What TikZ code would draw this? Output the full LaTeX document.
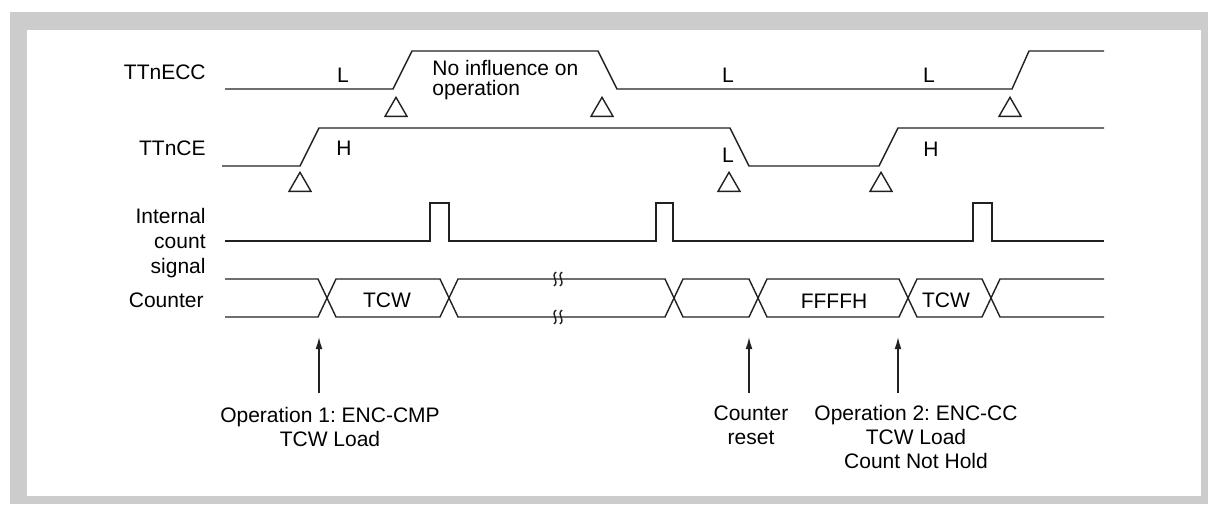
\documentclass[tikz,border=0pt]{standalone}
\usepackage{fontspec}
\setmainfont{Liberation Sans}
\frenchspacing
\usetikzlibrary{arrows.meta,positioning,shapes.geometric}

\begin{document}
\begin{tikzpicture}[x=0.5pt, y=-0.5pt,
  wave/.style={line width=0.7pt, draw=black!87},
  signame/.style={anchor=east, inner sep=0pt, align=right, font=\fontsize{10.5}{12.5}\selectfont},
  level/.style={inner sep=0pt, font=\fontsize{10.5}{12.5}\selectfont},
  note/.style={anchor=north, inner sep=0pt, align=center, font=\fontsize{10.5}{12}\selectfont},
  edgemark/.style={draw=black!87, line width=0.7pt, regular polygon, regular polygon sides=3,
    minimum size=12.7pt, inner sep=0pt},
  arrow/.style={-{Latex[length=6pt,width=3.4pt]}, line width=0.7pt, draw=black!87}
]
% frame
\fill[black!20] (10,12) rectangle (1208,504);
\fill[white] (27,30) rectangle (1201,496);
\useasboundingbox (0,0) rectangle (1208,504);

% signal names
\node[signame] (necc) at (206,72) {TTnECC};
\node[signame] (nce) at (206,148) {TTnCE};
\node[signame] (nint) at (206,243) {Internal\\count\\signal};
\node[signame] (ncnt) at (204,300) {Counter};

% TTnECC
\draw[wave] (225,89) -- (393,89) -- (412,51) -- (598,51) -- (617,89) -- (1012,89) -- (1029,51) -- (1104,51);
\node[level] (eccl1) at (343,75) {L};
\node[level, anchor=west, align=left, font=\fontsize{10.5}{10}\selectfont] (eccno) at (432,80) {No influence on\\operation};
\node[level] (eccl2) at (728,75) {L};
\node[level] (eccl3) at (929,75) {L};
\node[edgemark] (te1) at (396,110) {};
\node[edgemark] (te2) at (602,110) {};
\node[edgemark] (te3) at (1010,110) {};

% TTnCE
\draw[wave] (222,166) -- (300,166) -- (319,128) -- (730,128) -- (749,166) -- (879,166) -- (898,128) -- (1104,128);
\node[level] (ceh1) at (344,148) {H};
\node[level] (cel1) at (728,155) {L};
\node[level] (ceh2) at (931,149) {H};
\node[edgemark] (tc1) at (300,185) {};
\node[edgemark] (tc2) at (729,185) {};
\node[edgemark] (tc3) at (881,185) {};

% internal count signal
\draw[wave] (225,241) -- (430,241) -- (430,203) -- (449,203) -- (449,241)
  -- (656,241) -- (656,203) -- (673,203) -- (673,241)
  -- (973,241) -- (973,203) -- (992,203) -- (992,241) -- (1104,241);

% counter
\draw[wave] (225,279) -- (318,279) -- (327,298) -- (318,317) -- (225,317);
\foreach \a/\b in {327/449, 449/674, 674/758, 758/908, 908/991}
  \draw[wave] (\a,298) -- ({\a+9},279) -- ({\b-9},279) -- (\b,298) -- ({\b-9},317) -- ({\a+9},317) -- cycle;
\draw[wave] (1104,279) -- (1000,279) -- (991,298) -- (1000,317) -- (1104,317);
\foreach \y in {279,317}
  \foreach \x in {555,561}
    \draw[wave] ({\x+1},{\y-7}) .. controls ({\x-5},{\y-2}) and ({\x+5},{\y+2}) .. ({\x-1},{\y+7});
\node[level] (cnt1) at (387,300) {TCW};
\node[level] (cnt2) at (834,301) {FFFFH};
\node[level] (cnt3) at (946,300) {TCW};

% events
\coordinate (tip1) at (319,337);
\coordinate (tip2) at (749,337);
\coordinate (tip3) at (898,337);
\node[note] (op1) at (330,407) {Operation 1: ENC-CMP\\TCW Load};
\node[note] (rst) at (751,405) {Counter\\reset};
\node[note] (op2) at (916,405) {Operation 2: ENC-CC\\TCW Load\\Count Not Hold};
\draw[arrow, shorten <=7pt] (op1.north -| tip1) -- (tip1);
\draw[arrow, shorten <=6pt] (rst.north -| tip2) -- (tip2);
\draw[arrow, shorten <=6pt] (op2.north -| tip3) -- (tip3);
\end{tikzpicture}
\end{document}
